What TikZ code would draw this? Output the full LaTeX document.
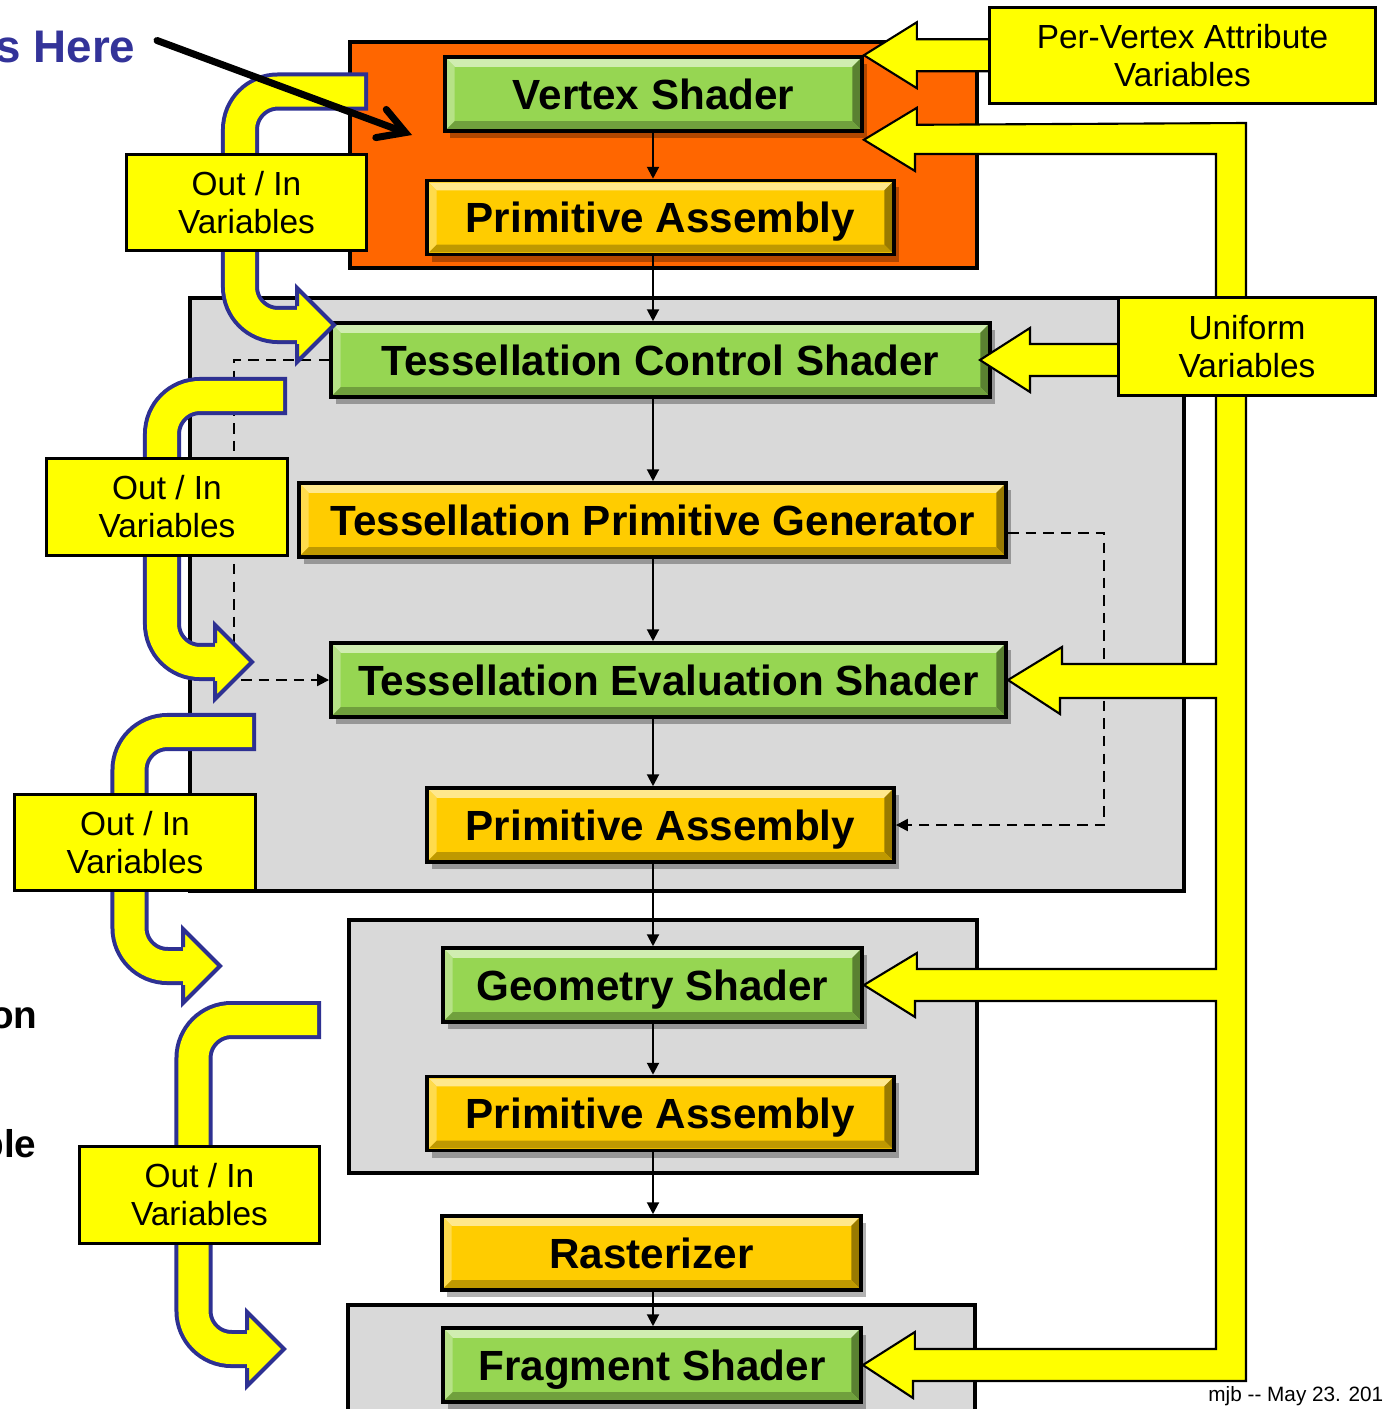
\documentclass[tikz,border=0pt]{standalone}
\usepackage{fontspec}
\setmainfont{Liberation Sans}
\usepackage{tikz}
\usetikzlibrary{arrows.meta, shadows}
\definecolor{stageorange}{RGB}{255,102,0}
\definecolor{stagegray}{RGB}{217,217,217}
\definecolor{shadergreen}{RGB}{150,214,82}
\definecolor{fixedgold}{RGB}{255,204,0}
\definecolor{varyellow}{RGB}{255,255,0}
\definecolor{outinblue}{RGB}{46,49,146}
\definecolor{titleblue}{RGB}{51,51,153}

\tikzset{
  bevel/.style={path picture={
      \path (path picture bounding box.north west) coordinate (bnw)
            (path picture bounding box.north east) coordinate (bne)
            (path picture bounding box.south west) coordinate (bsw)
            (path picture bounding box.south east) coordinate (bse);
      \fill[#1!45!white] ([shift={(.6pt,-.6pt)}]bnw) -- ([shift={(-.6pt,-.6pt)}]bne) -- ([shift={(-2.8pt,-2.8pt)}]bne) -- ([shift={(2.8pt,-2.8pt)}]bnw) -- cycle;
      \fill[#1!70!white] ([shift={(.6pt,-.6pt)}]bnw) -- ([shift={(2.8pt,-2.8pt)}]bnw) -- ([shift={(2.8pt,2.8pt)}]bsw) -- ([shift={(.6pt,.6pt)}]bsw) -- cycle;
      \fill[#1!60!black] ([shift={(-.6pt,-.6pt)}]bne) -- ([shift={(-.6pt,.6pt)}]bse) -- ([shift={(-2.8pt,2.8pt)}]bse) -- ([shift={(-2.8pt,-2.8pt)}]bne) -- cycle;
      \fill[#1!75!black] ([shift={(.6pt,.6pt)}]bsw) -- ([shift={(2.8pt,2.8pt)}]bsw) -- ([shift={(-2.8pt,2.8pt)}]bse) -- ([shift={(-.6pt,.6pt)}]bse) -- cycle;
  }},
  stage/.style={draw=black, line width=1pt, fill=#1, bevel=#1, inner sep=0pt, text depth=0pt,
    minimum height=0.74cm, font=\bfseries\fontsize{12}{14}\selectfont,
    drop shadow={shadow xshift=0.05cm, shadow yshift=-0.07cm, opacity=0.3, fill=black}},
  outvar/.style={draw=black, line width=0.85pt, fill=varyellow, align=center, inner sep=0pt,
    minimum width=2.4cm, minimum height=0.96cm, font=\fontsize{9.5}{10.8}\selectfont},
  flow/.style={line width=0.6pt, -{Triangle[length=3.4pt,width=3.4pt]}},
  dashflow/.style={line width=0.6pt, dash pattern=on 3pt off 2pt, -{Triangle[length=3.4pt,width=3.4pt]}},
  fatarrow/.style={fill=varyellow, draw=black, line width=0.6pt, line join=miter},
  bendrim/.style={draw=outinblue, line width=0.38cm, rounded corners=0.38cm},
  bendfill/.style={draw=varyellow, line width=0.3cm, rounded corners=0.38cm},
  bendhead/.style={draw=outinblue, line width=0.04cm, line join=miter},
  pointer/.style={line width=0.07cm, line cap=round, -{Straight Barb[length=0.26cm, width=0.3cm, line cap=round]}}
}

\begin{document}
\begin{tikzpicture}[x=0.01cm, y=-0.01cm]
  \useasboundingbox (0,0) rectangle (1384,1409);
  \clip (0,0) rectangle (1384,1409);

  % stage frames
  \draw[fill=stageorange, line width=0.04cm] (350,42) rectangle (977,268);
  \draw[fill=stagegray, line width=0.04cm] (190,298) rectangle (1184,891);
  \draw[fill=stagegray, line width=0.04cm] (349,920) rectangle (977,1173);
  \draw[fill=stagegray, line width=0.04cm] (348,1305) rectangle (975,1440);

  % pipeline
  \node[stage=shadergreen, minimum width=4.17cm] (vs) at (653.5,94) {Vertex Shader};
  \node[stage=fixedgold, minimum width=4.67cm] (pa1) at (660.5,217.5) {Primitive Assembly};
  \node[stage=shadergreen, minimum width=6.59cm] (tcs) at (660.5,360) {Tessellation Control Shader};
  \node[stage=fixedgold, minimum width=7.07cm] (tpg) at (652.5,520) {Tessellation Primitive Generator};
  \node[stage=shadergreen, minimum width=6.75cm] (tes) at (668.5,680) {Tessellation Evaluation Shader};
  \node[stage=fixedgold, minimum width=4.67cm] (pa2) at (660.5,825) {Primitive Assembly};
  \node[stage=shadergreen, minimum width=4.19cm] (gs) at (652.5,985) {Geometry Shader};
  \node[stage=fixedgold, minimum width=4.67cm] (pa3) at (660.5,1113.5) {Primitive Assembly};
  \node[stage=fixedgold, minimum width=4.19cm] (rast) at (651.5,1253) {Rasterizer};
  \node[stage=shadergreen, minimum width=4.18cm] (fs) at (652,1365) {Fragment Shader};

  \coordinate (spine) at (653,0);
  \foreach \a/\b in {vs/pa1, pa1/tcs, tcs/tpg, tpg/tes, tes/pa2, pa2/gs, gs/pa3, pa3/rast, rast/fs}
    \draw[flow] (spine |- \a.south) -- (spine |- \b.north);

  % bypass paths
  \draw[dashflow] (tcs.west) -- ++(-95,0) |- (tes.west);
  \draw[dashflow] ([yshift=-0.13cm]tpg.east) -- ++(96,0) |- (pa2.east);

  % out / in hand-over arrows
  \foreach \ex/\ey/\vx/\hx/\hy in {368/91.5/240/297/325, 287/396/162/215/662, 256/732/129.5/183/966, 321/1020/193.5/247/1349} {
    \draw[bendrim] (\ex,\ey) -- (\vx,\ey) -- (\vx,\hy) -- (\hx,\hy);
    \draw[bendfill] (\ex-4,\ey) -- (\vx,\ey) -- (\vx,\hy) -- (\hx,\hy);
    \fill[varyellow] (\hx,\hy-37) -- (\hx+37,\hy) -- (\hx,\hy+37) -- cycle;
    \draw[bendhead] (\hx,\hy-19) -- (\hx,\hy-37) -- (\hx+37,\hy) -- (\hx,\hy+37) -- (\hx,\hy+19);
  }
  \node[outvar] (io1) at (246.5,202.5) {Out / In\\Variables};
  \node[outvar] (io2) at (167,507) {Out / In\\Variables};
  \node[outvar] (io3) at (135,842.5) {Out / In\\Variables};
  \node[outvar] (io4) at (199.5,1195) {Out / In\\Variables};

  % attribute and uniform feeds
  \filldraw[fatarrow] (vs.north east) -- ++(53,-33) -- ++(0,17) -- ++(85,0) -- ++(0,32) -- ++(-85,0) -- ++(0,17) -- cycle;
  \filldraw[fatarrow] ([xshift=-0.12cm]tcs.east) -- ++(50,-32) -- ++(0,16) -- ++(100,0) -- ++(0,32) -- ++(-100,0) -- ++(0,16) -- cycle;
  \filldraw[fatarrow] ([yshift=-0.07cm]vs.south east) -- ++(53,-32) -- ++(0,17) -- (1246,123) -- (1246,1381)
    -- (913,1381) -- ++(0,17) -- (fs.east) -- ++(52,-33) -- ++(0,17) -- (1216,1349)
    -- (1216,1001) -- (915,1001) -- ++(0,16) -- (gs.east) -- ++(53,-32) -- ++(0,16) -- (1216,969)
    -- (1216,698) -- (1060,698) -- ++(0,16) -- (tes.east) -- ++(54,-33) -- ++(0,17) -- (1216,664)
    -- (1216,154) -- (915,154) -- (915,171) -- cycle;
  \node[outvar, minimum width=3.85cm, minimum height=0.95cm] (pva) at (1182.5,55.5) {Per-Vertex Attribute\\Variables};
  \node[outvar, minimum width=2.56cm, minimum height=0.97cm] (uni) at (1247,346.5) {Uniform\\Variables};

  % slide leftovers
  \node[anchor=base east, inner sep=0pt, text=titleblue, font=\bfseries\fontsize{13}{15}\selectfont] (here) at (136,62) {s Here};
  \coordinate (hint) at (412,135);
  \draw[pointer] ([xshift=0.21cm,yshift=0.06cm]here.east) -- (hint);
  \node[anchor=base east, inner sep=0pt, font=\bfseries\fontsize{11}{13}\selectfont] (sideon) at (38,1028) {on};
  \node[anchor=base east, inner sep=0pt, font=\bfseries\fontsize{11}{13}\selectfont] (sideble) at (37,1157) {ble};
  \node[anchor=base east, inner sep=0pt, font=\fontsize{5.9}{7}\selectfont] (stamp) at (1384,1401) {mjb -{}- May 23. 201};
\end{tikzpicture}
\end{document}
